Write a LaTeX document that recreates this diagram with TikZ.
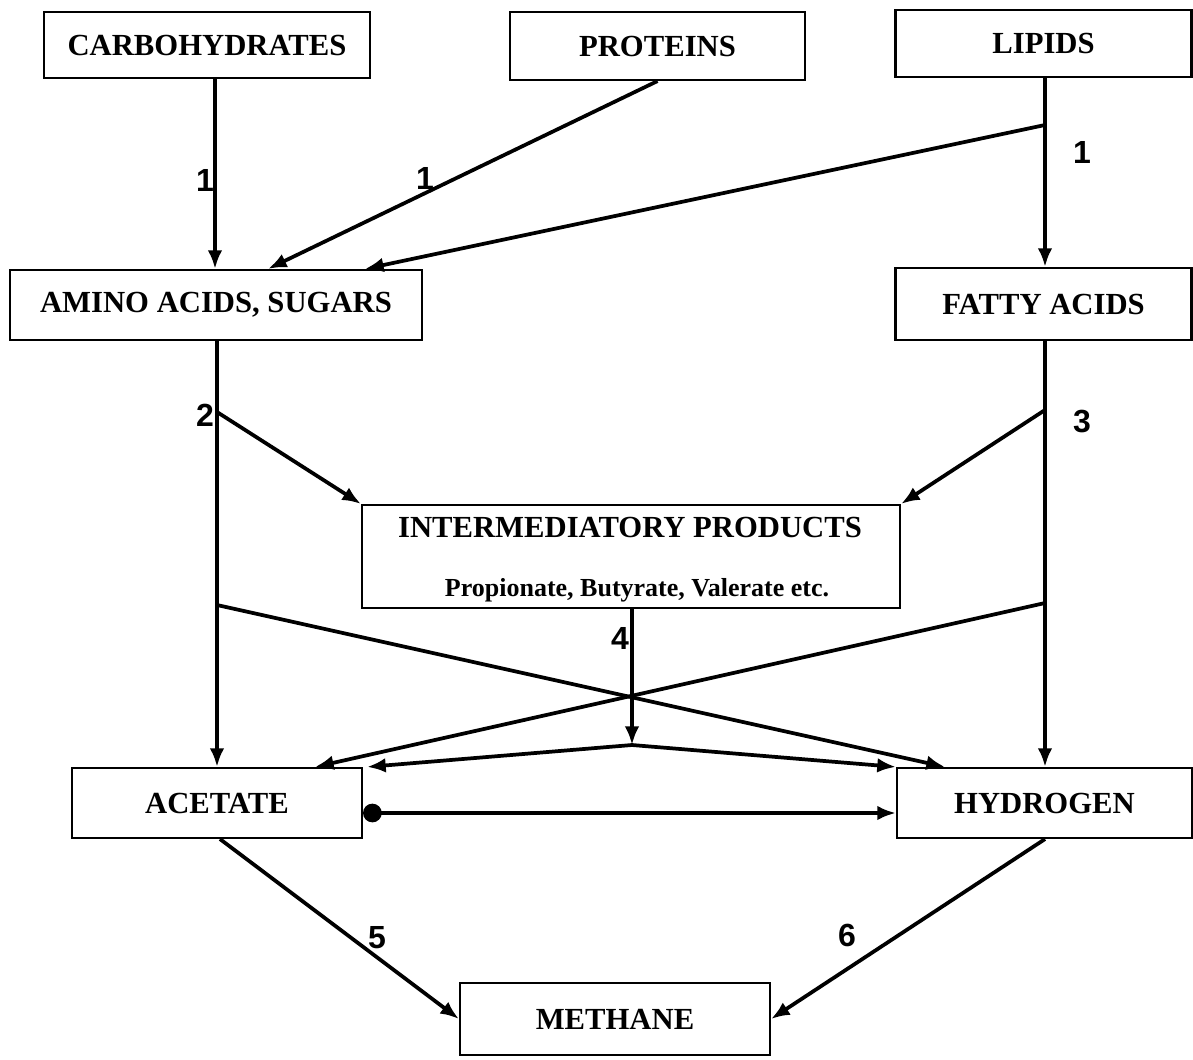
\documentclass[tikz,border=0pt]{standalone}
\usepackage{fontspec}
\setmainfont{Liberation Serif}
\newfontfamily\numfont{Liberation Sans}
\usetikzlibrary{arrows.meta}
\begin{document}
\begin{tikzpicture}[x=0.75pt,y=-0.75pt,
  box/.style={draw,line width=1.6pt,inner sep=0pt,font=\fontsize{23}{25}\selectfont\bfseries},
  arr/.style={line width=2.8pt,-{Latex[length=14pt,width=11pt]}},
  ln/.style={line width=2.8pt},
  num/.style={font=\fontsize{24}{25}\numfont\bfseries}]
\useasboundingbox[fill=white] (0,0) rectangle (1193,1060);
% boxes
\node[box,minimum width=244.5pt,minimum height=49.5pt] (carb) at (207,45) {CARBOHYDRATES};
\node[box,minimum width=221.25pt,minimum height=51pt] (prot) at (657.5,46) {PROTEINS};
\node[box,minimum width=222pt,minimum height=50.25pt] (lipids) at (1043.5,43.5) {LIPIDS};
\node[box,minimum width=309pt,minimum height=52.5pt] (amino) at (216,305) {AMINO ACIDS, SUGARS};
\node[box,minimum width=222pt,minimum height=54pt] (fatty) at (1043.5,304) {FATTY ACIDS};
\node[box,minimum width=403.5pt,minimum height=77.25pt] (inter) at (631,556.5) {};
\node[font=\fontsize{23}{25}\selectfont\bfseries] (intert) at (630,527) {INTERMEDIATORY PRODUCTS};
\node[font=\fontsize{19.5}{21}\selectfont\bfseries] (inters) at (637,590) {Propionate, Butyrate, Valerate etc.};
\node[box,minimum width=217.5pt,minimum height=52.5pt] (acetate) at (217,803) {ACETATE};
\node[box,minimum width=221.25pt,minimum height=52.5pt] (hydrogen) at (1044.5,803) {HYDROGEN};
\node[box,minimum width=232.5pt,minimum height=54pt] (methane) at (615,1019) {METHANE};
% branch points
\coordinate (lb) at (1045,125);
\coordinate (ab) at (217,412);
\coordinate (fb) at (1045,410);
\coordinate (ax) at (217,605);
\coordinate (fx) at (1045,603);
\coordinate (jn) at (632,745);
% connectors
\draw[arr] (carb.south -| 215,0) -- (amino.north -| 215,0);
\draw[arr] (prot.south) -- (amino.north -| 268,0);
\draw[arr] (lipids.south -| 1045,0) -- (fatty.north -| 1045,0);
\draw[arr] (lb) -- (amino.north -| 365,0);
\draw[arr] (amino.south -| 217,0) -- (acetate.north -| 217,0);
\draw[arr] (ab) -- (inter.north west);
\draw[arr] (fatty.south -| 1045,0) -- (hydrogen.north -| 1045,0);
\draw[arr] (fb) -- (inter.north east);
\draw[arr] (ax) -- (hydrogen.north -| 945,0);
\draw[arr] (fx) -- (acetate.north -| 315,0);
\draw[arr] (inter.south -| jn) -- (jn);
\draw[arr] (jn) -- ([xshift=3pt]acetate.north east);
\draw[arr] (jn) -- (hydrogen.north west);
\draw[line width=2.8pt,{Circle[length=14pt]}-{Latex[length=14pt,width=11pt]}] ([yshift=-7.5pt]acetate.east) -- ([yshift=-7.5pt]hydrogen.west);
\draw[arr] (acetate.south -| 220,0) -- (methane.west);
\draw[arr] (hydrogen.south -| 1045,0) -- (methane.east);
% labels
\node[num] (n1a) at (205,180) {1};
\node[num] (n1b) at (425,178) {1};
\node[num] (n1c) at (1082,152) {1};
\node[num] (n2) at (205,415) {2};
\node[num] (n3) at (1082,422) {3};
\node[num] (n4) at (620,638) {4};
\node[num] (n5) at (377,938) {5};
\node[num] (n6) at (847,935) {6};
\end{tikzpicture}
\end{document}
